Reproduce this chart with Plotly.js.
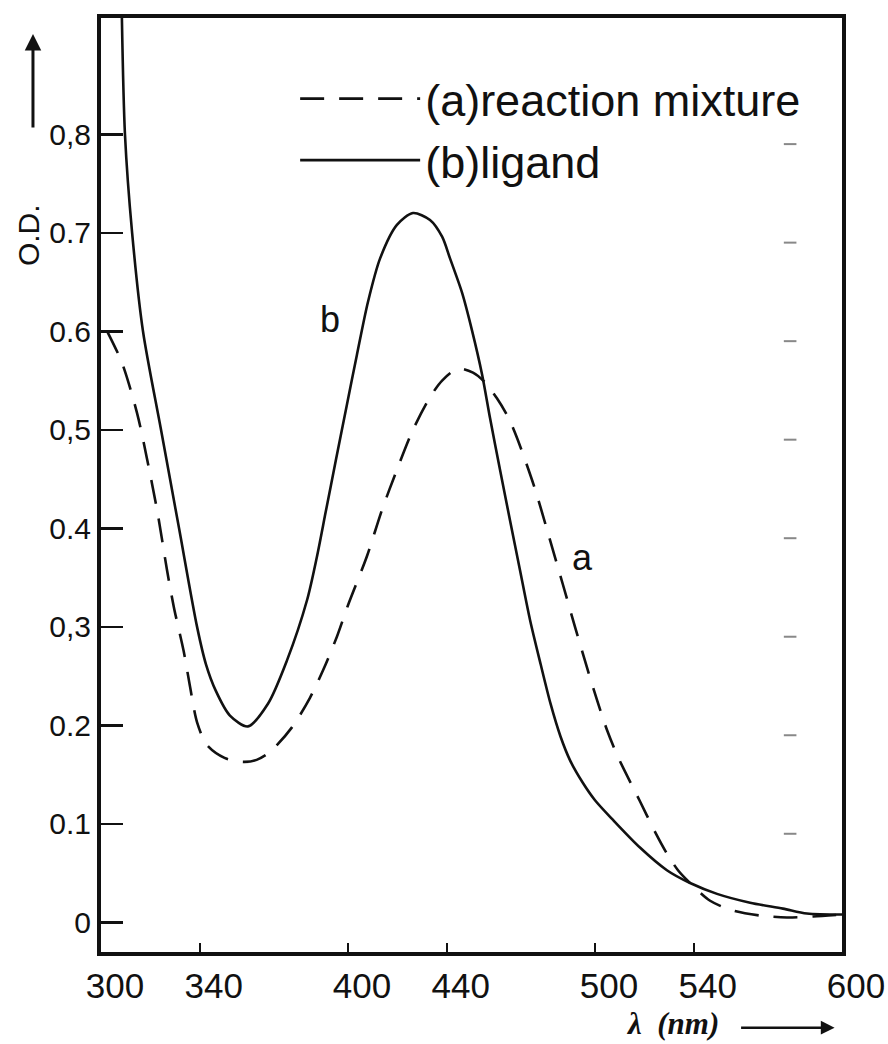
<!DOCTYPE html>
<html>
<head>
<meta charset="utf-8">
<script src="https://cdn.plot.ly/plotly-3.0.1.min.js"></script>
<style>
  html, body { margin: 0; padding: 0; background: #ffffff; }
  #chart { width: 888px; height: 1044px; }
</style>
</head>
<body>
<div id="chart"></div>
<script>
// ---- data ----
const seriesNames = ["(a)reaction mixture", "(b)ligand"];

// (a) reaction mixture — dashed
const wavelengthA = [302.5, 308.5, 314.6, 318.6, 323.1, 326.7, 329.5, 333.5, 336.0, 338.9,
  342.9, 350.0, 357.5, 363.0, 368.4, 377.3, 384.6, 389.9, 395.5, 400.0,
  407.7, 413.8, 420.2, 426.3, 433.2, 438.1, 444.5, 450.6, 455.5, 460.3,
  464.8, 468.4, 475.7, 481.8, 487.0, 491.9, 497.2, 500.8, 504.9, 509.3,
  518.2, 524.3, 529.1, 533.6, 538.5, 546.6, 555.9, 566.8, 577.7, 588.3, 600.0];
const odA = [0.600, 0.568, 0.517, 0.471, 0.413, 0.358, 0.320, 0.275, 0.240, 0.203,
  0.180, 0.167, 0.163, 0.165, 0.173, 0.198, 0.228, 0.256, 0.290, 0.322,
  0.372, 0.419, 0.462, 0.500, 0.533, 0.550, 0.562, 0.558, 0.548, 0.532,
  0.513, 0.492, 0.440, 0.388, 0.343, 0.300, 0.255, 0.226, 0.195, 0.168,
  0.123, 0.092, 0.070, 0.053, 0.040, 0.022, 0.012, 0.007, 0.005, 0.006, 0.008];

// (b) ligand — solid
const wavelengthB = [308.3, 309.7, 312.6, 317.0, 324.3, 331.6, 338.9, 342.5, 346.5, 352.2,
  359.5, 367.6, 375.3, 383.4, 387.4, 391.0, 395.0, 399.6, 403.6, 408.1,
  413.0, 419.8, 426.3, 433.2, 438.1, 441.3, 446.2, 450.2, 454.3, 457.5,
  461.5, 465.6, 469.6, 473.7, 478.0, 482.0, 486.0, 490.0, 495.0, 500.0,
  507.3, 518.2, 529.1, 538.5, 549.4, 562.8, 576.1, 585.8, 600.0];
const odB = [0.940, 0.800, 0.700, 0.600, 0.500, 0.400, 0.300, 0.262, 0.235, 0.210,
  0.199, 0.222, 0.266, 0.327, 0.371, 0.417, 0.468, 0.526, 0.576, 0.630,
  0.674, 0.708, 0.720, 0.713, 0.696, 0.674, 0.639, 0.601, 0.556, 0.512,
  0.460, 0.408, 0.358, 0.307, 0.262, 0.222, 0.189, 0.164, 0.142, 0.124,
  0.104, 0.076, 0.053, 0.040, 0.029, 0.020, 0.014, 0.009, 0.008];

// faint marks near the right edge of the sheet
const markX = [579, 579, 579, 579, 579, 579, 579, 579];
const markY = [0.79, 0.69, 0.59, 0.49, 0.39, 0.29, 0.19, 0.09];

// axis ticks
const xTickVals = [300, 340, 400, 440, 500, 540, 600];
const xTickText = ["300", "340", "400", "440", "500", "540", "600"];
const yTickVals = [0, 0.1, 0.2, 0.3, 0.4, 0.5, 0.6, 0.7, 0.8];
const yTickText = ["0", "0.1", "0.2", "0,3", "0.4", "0,5", "0.6", "0.7", "0,8"];

// curve labels
const curveLabels = ["b", "a"];
const curveLabelX = [392.7, 495.1];
const curveLabelY = [0.612, 0.370];

// ---- chart ----
const ink = "#111111";
const handFont = "Liberation Sans, Arial, sans-serif";

const traces = [
  {
    x: wavelengthA, y: odA, name: seriesNames[0],
    type: "scatter", mode: "lines",
    line: { color: ink, width: 2.6, dash: "24px,15px", shape: "spline", smoothing: 0.8 },
    hoverinfo: "x+y"
  },
  {
    x: wavelengthB, y: odB, name: seriesNames[1],
    type: "scatter", mode: "lines",
    line: { color: ink, width: 2.6, shape: "spline", smoothing: 0.8 },
    hoverinfo: "x+y"
  },
  {
    x: markX, y: markY, type: "scatter", mode: "markers", showlegend: false,
    hoverinfo: "skip",
    marker: { symbol: "line-ew-open", size: 9, color: "#888888", line: { width: 2, color: "#888888" } }
  }
];

const annotations = [
  {
    x: curveLabelX[0], y: curveLabelY[0], xref: "x", yref: "y", text: curveLabels[0],
    showarrow: false, font: { family: handFont, size: 36, color: ink }
  },
  {
    x: curveLabelX[1], y: curveLabelY[1], xref: "x", yref: "y", text: curveLabels[1],
    showarrow: false, font: { family: handFont, size: 36, color: ink }
  },
  {
    x: -0.098, y: 0.768, xref: "paper", yref: "paper", text: "O.D.", textangle: -90,
    showarrow: false, font: { family: handFont, size: 30, color: ink },
    xanchor: "center", yanchor: "middle"
  },
  {
    x: -0.0918, y: 0.983, xref: "paper", yref: "paper", text: "",
    showarrow: true, ax: 0, ay: 95, arrowhead: 2, arrowsize: 1.1, arrowwidth: 3, arrowcolor: ink
  },
  {
    x: 0.771, y: -0.077, xref: "paper", yref: "paper",
    text: "<b><i>λ  (nm)</i></b>", showarrow: false,
    font: { family: "Liberation Serif, Times New Roman, serif", size: 31, color: ink },
    xanchor: "center", yanchor: "middle"
  },
  {
    x: 0.990, y: -0.081, xref: "paper", yref: "paper", text: "",
    showarrow: true, ax: -95, ay: 0, arrowhead: 2, arrowsize: 1.1, arrowwidth: 2.5, arrowcolor: ink
  }
];

const layout = {
  width: 888, height: 1044,
  margin: { l: 101, r: 46, t: 18, b: 92, pad: 0 },
  paper_bgcolor: "#ffffff", plot_bgcolor: "#ffffff",
  showlegend: true,
  legend: {
    x: 0.262, y: 0.952, xanchor: "left", yanchor: "top",
    bgcolor: "rgba(0,0,0,0)", borderwidth: 0,
    itemwidth: 120,
    font: { family: handFont, size: 45, color: ink },
    tracegroupgap: 0
  },
  xaxis: {
    range: [300, 600], showgrid: false, zeroline: false,
    showline: true, mirror: true, linewidth: 4, linecolor: ink,
    ticks: "inside", ticklen: 9, tickwidth: 2, tickcolor: ink,
    tickvals: xTickVals, ticktext: xTickText,
    tickfont: { family: handFont, size: 35, color: ink },
    ticklabelshift: 14, ticklabelstandoff: 0
  },
  yaxis: {
    range: [-0.030, 0.918], showgrid: false, zeroline: false,
    showline: true, mirror: true, linewidth: 4, linecolor: ink,
    ticks: "inside", ticklen: 22, tickwidth: 2.5, tickcolor: ink,
    tickvals: yTickVals, ticktext: yTickText,
    tickfont: { family: handFont, size: 30, color: ink },
    ticklabelstandoff: 0
  },
  annotations: annotations
};

Plotly.newPlot("chart", traces, layout, { displayModeBar: false, staticPlot: true });
</script>
</body>
</html>
